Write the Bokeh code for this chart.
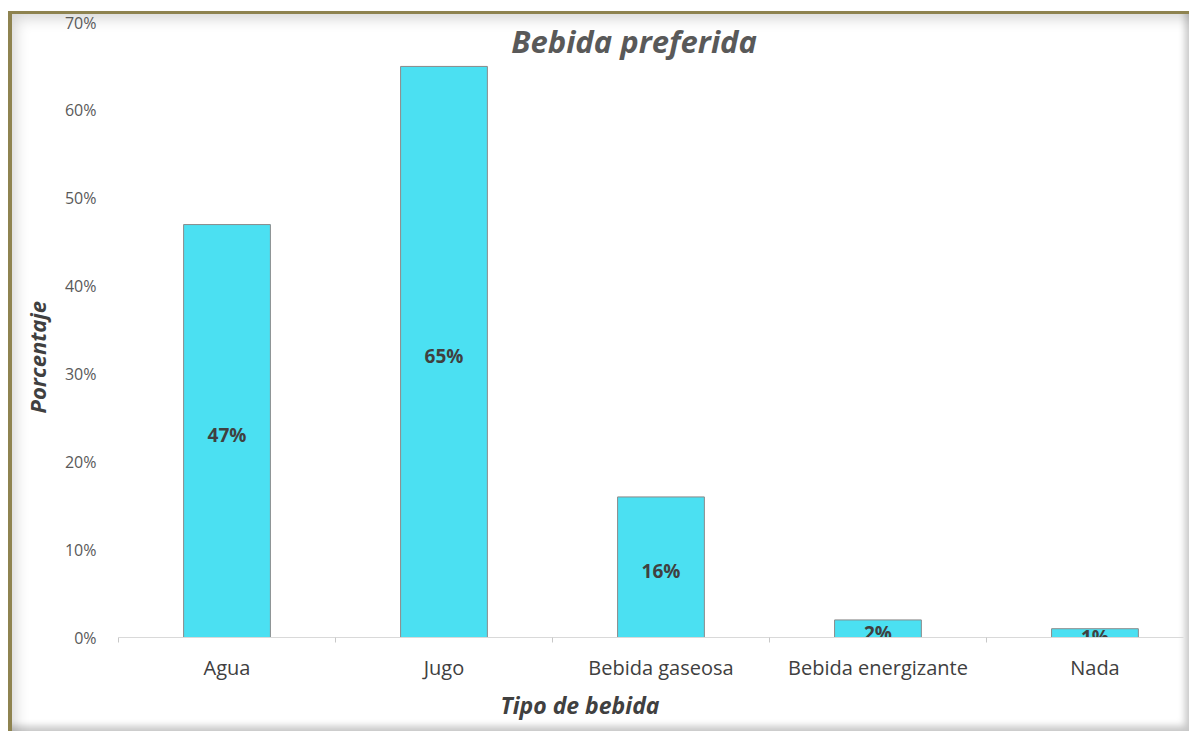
from bokeh.plotting import figure
from bokeh.models import FixedTicker, NumeralTickFormatter, ColumnDataSource, Label, Title
from bokeh.core.properties import value
from bokeh.embed import file_html
from bokeh.resources import INLINE

# Preferred drink survey (share of respondents)
categories = ["Agua", "Jugo", "Bebida gaseosa", "Bebida energizante", "Nada"]
shares = [0.47, 0.65, 0.16, 0.02, 0.01]
y_ticks = [0.0, 0.1, 0.2, 0.3, 0.4, 0.5, 0.6, 0.7]

FONT = "Open Sans"
positions = list(range(len(categories)))

src = ColumnDataSource(dict(
    x=positions,
    top=shares,
    mid=[v / 2 for v in shares],
    label=[f"{round(v * 100)}%" for v in shares],
))

p = figure(
    width=1181, height=720,
    x_range=(-0.5, 4.408), y_range=(0, 0.7),
    output_backend="svg", toolbar_location=None,
    min_border_left=110, min_border_right=6,
    min_border_top=11, min_border_bottom=94,
)
p.margin = (11, 0, 0, 8)
p.background_fill_color = None
p.border_fill_color = None
p.outline_line_color = None
p.grid.visible = False
p.styles = {
    "box-shadow": (
        "inset 4px 3px 0 0 #8e8350, "
        "inset 14px 14px 14px -6px rgba(0,0,0,0.16), "
        "inset -6px -7px 7px -2px rgba(0,0,0,0.22)"
    )
}

p.vbar(x="x", top="top", width=0.4, source=src,
       fill_color="#4be0f2", line_color="#8a8a8a", line_width=1)

p.text(x="x", y="mid", text="label", source=src,
       text_align="center", text_baseline="middle", y_offset=4,
       text_font=value(FONT), text_font_style="bold", text_font_size="19px",
       text_color="#404040")

# x axis: category names, tick marks between categories
xa = p.xaxis[0]
xa.ticker = FixedTicker(ticks=positions,
                        minor_ticks=[i - 0.5 for i in range(len(categories) + 1)])
xa.major_label_overrides = {i: c for i, c in enumerate(categories)}
xa.axis_line_color = "#d9d9d9"
xa.major_tick_line_color = None
xa.minor_tick_in = 0
xa.minor_tick_out = 5
xa.minor_tick_line_color = "#c8c8c8"
xa.major_label_standoff = 10
xa.major_label_text_font = FONT
xa.major_label_text_font_size = "20px"
xa.major_label_text_color = "#404040"

# y axis: percentages, no line or ticks
ya = p.yaxis[0]
ya.ticker = FixedTicker(ticks=y_ticks)
ya.formatter = NumeralTickFormatter(format="0%")
ya.axis_line_color = None
ya.major_tick_line_color = None
ya.minor_tick_line_color = None
ya.major_label_standoff = 16
ya.major_label_text_font = FONT
ya.major_label_text_font_size = "16px"
ya.major_label_text_color = "#595959"

# axis titles as side titles so they can be offset along their axis
title_style = dict(text_font=FONT, text_font_style="bold italic", text_color="#404040")
p.add_layout(Title(text="Tipo de bebida", align="left", offset=382, standoff=6,
                   text_font_size="23px", **title_style), "below")
p.add_layout(Title(text="Porcentaje", align="left", offset=224, standoff=20,
                   text_font_size="22px", **title_style), "left")

p.add_layout(Label(x=1.876, y=0.679, text="Bebida preferida",
                   text_align="center", text_baseline="middle",
                   text_font=FONT, text_font_style="bold italic",
                   text_font_size="31px", text_color="#595959"))

open("out.html", "w").write(file_html(p, INLINE))
